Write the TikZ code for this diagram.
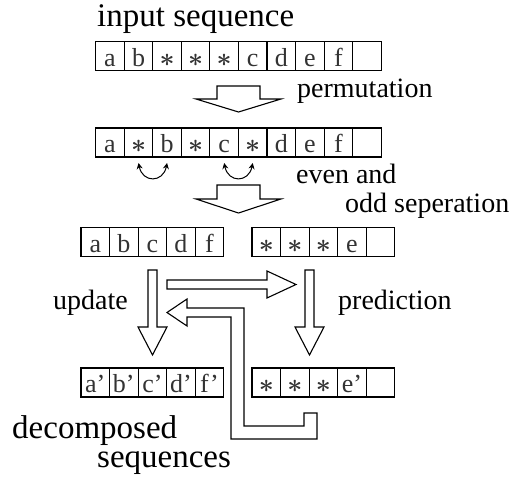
\documentclass[tikz,border=0pt]{standalone}
\usepackage{fontspec}
\setmainfont{Liberation Serif}
\usetikzlibrary{arrows.meta}
\tikzset{
  cell/.style={draw, line width=1.1pt, minimum width=28.55pt, minimum height=29pt,
    inner sep=0pt, outer sep=0pt, text height=20pt, text depth=0pt,
    font=\fontsize{26}{26}\selectfont, text=black!80},
  blockarrow/.style={draw, line width=1.1pt, line join=miter, fill=white},
  biglabel/.style={anchor=base west, inner sep=0pt, font=\fontsize{33}{33}\selectfont},
  label/.style={anchor=base west, inner sep=0pt, font=\fontsize{28}{28}\selectfont},
  swaparrow/.style={line width=1pt, {Stealth[length=6pt,width=6pt]}-{Stealth[length=6pt,width=6pt]}}
}
\newcommand\bigast{\resizebox{15pt}{!}{\boldmath$\ast$}}
\newcommand\seqrow[4]{%
  \foreach \t [count=\i] in {#4} {
    \node[cell] (#1\i) at ({#2+(\i-0.5)*28.55}, #3) {\t};
  }%
}
\begin{document}
\begin{tikzpicture}[x=1pt, y=-1pt]
\useasboundingbox (0,0) rectangle (512,479);

% rows of cells
\seqrow{ra}{95.7}{56.4}{a,b,\bigast,\bigast,\bigast,c,d,e,f,{}}
\seqrow{rb}{95.7}{142.5}{a,\bigast,b,\bigast,c,\bigast,d,e,f,{}}
\seqrow{rc}{81}{242}{a,b,c,d,f}
\seqrow{rd}{252}{242}{\bigast,\bigast,\bigast,e,{}}
\seqrow{re}{81}{382.5}{a’,b’,c’,d’,f’}
\seqrow{rf}{252}{382.5}{\bigast,\bigast,\bigast,e’,{}}

% labels
\node[biglabel] (tin) at (97,27) {input sequence};
\node[label] (tperm) at (297,97) {permutation};
\node[label] (teven) at (296,183) {even and};
\node[label] (todd) at (345,212) {odd seperation};
\node[label] (tupd) at (53,309) {update};
\node[label] (tpred) at (338,309) {prediction};
\node[biglabel] (tdec) at (12,438) {decomposed};
\node[biglabel] (tseq) at (97,467) {sequences};

% permutation arrow
\draw[blockarrow] (217,86) -- (260,86) -- (260,99) -- (281,99) -- (238.5,112)
  -- (196,99) -- (217,99) -- cycle;
% separation arrow
\draw[blockarrow] (217,185) -- (260,185) -- (260,199) -- (281,199) -- (238.5,213)
  -- (196,199) -- (217,199) -- cycle;

% swap arrows
\draw[swaparrow] ([yshift=-6pt]rb2.south) .. controls +(4,20) and +(-4,20) .. ([yshift=-6pt]rb3.south);
\draw[swaparrow] ([yshift=-6pt]rb5.south) .. controls +(4,20) and +(-4,20) .. ([yshift=-6pt]rb6.south);

% update arrow (down)
\draw[blockarrow] (148,270) -- (157,270) -- (157,327) -- (167,327) -- (152.5,355)
  -- (138,327) -- (148,327) -- cycle;
% prediction arrow (down)
\draw[blockarrow] (305,270) -- (314,270) -- (314,327) -- (324,327) -- (309.5,355)
  -- (295,327) -- (305,327) -- cycle;
% right arrow
\draw[blockarrow] (167,280) -- (267,280) -- (267,271) -- (296,284.5) -- (267,298)
  -- (267,289) -- (167,289) -- cycle;
% loop arrow back to update
\draw[blockarrow] (167,312.5) -- (187,299) -- (187,308) -- (244,308) -- (244,426)
  -- (304,426) -- (304,413) -- (317,413) -- (317,439) -- (231,439) -- (231,317)
  -- (187,317) -- (187,326) -- cycle;
\end{tikzpicture}
\end{document}
